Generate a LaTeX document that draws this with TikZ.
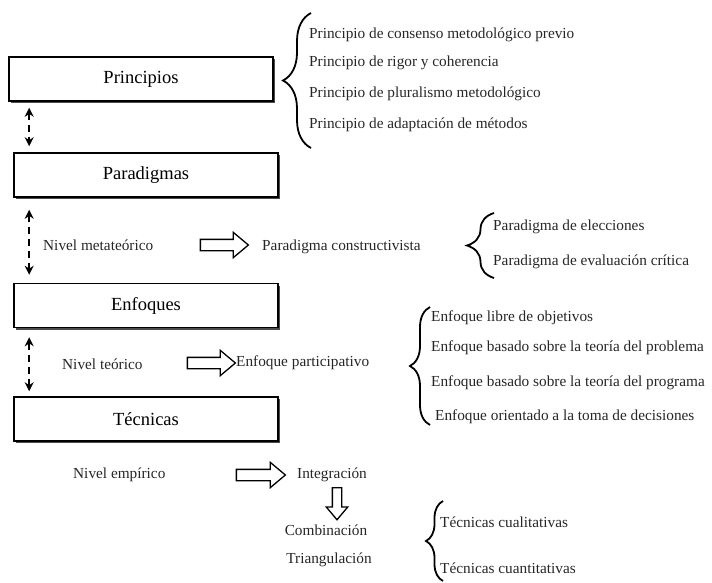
\documentclass[tikz,border=0pt]{standalone}
\usepackage{fontspec}
\setmainfont{Liberation Serif}
\usetikzlibrary{shapes,arrows.meta,decorations.pathreplacing,shadows}

\begin{document}
\begin{tikzpicture} [x=1pt,y=-1pt,
    box/.style={draw,line width=1.6pt,fill=white,minimum width=264pt,minimum height=44pt,
      font=\fontsize{18.5}{20}\selectfont,
      drop shadow={shadow xshift=2.2pt,shadow yshift=-2.2pt,fill=black!70,opacity=1}},
    lbl/.style={font=\fontsize{15.3}{17}\selectfont,text=black!85,inner sep=0pt,anchor=west},
    mid/.style={lbl,anchor=center},
    link/.style={line width=1.8pt,dash pattern=on 7pt off 5pt,
      {Stealth[length=9pt,width=9pt]}-{Stealth[length=9pt,width=9pt]}},
    fat/.style={single arrow,draw,line width=1.3pt,minimum height=#1,inner xsep=0pt,inner ysep=5pt,
      single arrow head extend=7pt,single arrow tip angle=80},
    curly/.style={decorate,decoration={brace,amplitude=#1},line width=1.8pt}]
    \useasboundingbox (0,0) rectangle (712,582);

    % boxes %
    \node[box] (princ) at (141,79) {Principios};
    \node[box] (parad) at (146,175) {Paradigmas};
    \node[box] (enfoq) at (146,305.5) {Enfoques};
    \node[box] (tecni) at (146,419) {Técnicas};

    % dashed links between boxes %
    \draw[link] ([xshift=21pt,yshift=-6pt]princ.south west) -- ([xshift=16pt,yshift=6pt]parad.north west);
    \draw[link] ([xshift=16pt,yshift=-12pt]parad.south west) -- ([xshift=16pt,yshift=8pt]enfoq.north west);
    \draw[link] ([xshift=16pt,yshift=-9pt]enfoq.south west) -- ([xshift=16pt,yshift=5pt]tecni.north west);

    % principles %
    \node[lbl] (pr1) at (309,35) {Principio de consenso metodológico previo};
    \node[lbl] (pr2) at (309,63) {Principio de rigor y coherencia};
    \node[lbl] (pr3) at (309,94) {Principio de pluralismo metodológico};
    \node[lbl] (pr4) at (309,125) {Principio de adaptación de métodos};
    \coordinate (prb) at (311,148);
    \coordinate (prt) at (311,13);
    \draw[curly=28pt] (prb) -- (prt);

    % metatheoretical level %
    \node[lbl] (meta) at (43,245) {Nivel metateórico};
    \node[fat=48pt] (ar1) at (221,245) {};
    \node[lbl] (pcons) at (262,247) {Paradigma constructivista};
    \node[lbl] (pa1) at (493,227) {Paradigma de  elecciones};
    \node[lbl] (pa2) at (493,262) {Paradigma de evaluación crítica};
    \coordinate (pab) at (494,278);
    \coordinate (pat) at (494,213);
    \draw[curly=27pt] (pab) -- (pat);

    % theoretical level %
    \node[lbl] (teor) at (62,364) {Nivel teórico};
    \node[fat=48pt] (ar2) at (208,363) {};
    \node[lbl] (epart) at (236,363) {Enfoque participativo};
    \node[lbl] (en1) at (431,318) {Enfoque libre de objetivos};
    \node[lbl] (en2) at (431,348) {Enfoque basado sobre la teoría del problema};
    \node[lbl] (en3) at (431,383) {Enfoque basado sobre la teoría del programa};
    \node[lbl] (en4) at (435,417) {Enfoque orientado a la  toma de decisiones};
    \coordinate (enb) at (430,425);
    \coordinate (ent) at (430,307);
    \draw[curly=20pt] (enb) -- (ent);

    % empirical level %
    \node[lbl] (empi) at (73,475) {Nivel empírico};
    \node[fat=49pt] (ar3) at (257.5,475) {};
    \node[mid] (integ) at (332,475) {Integración};
    \node[fat=32pt,rotate=-90,inner ysep=4pt,single arrow head extend=6pt] (ar4) at (337,501) {};
    \node[mid] (combi) at (326,530) {Combinación};
    \node[mid] (trian) at (329,560) {Triangulación};
    \node[lbl] (te1) at (440,522) {Técnicas cualitativas};
    \node[lbl] (te2) at (440,568) {Técnicas cuantitativas};
    \coordinate (teb) at (443,581);
    \coordinate (tet) at (443,501);
    \draw[curly=17pt] (teb) -- (tet);
\end{tikzpicture}
\end{document}
